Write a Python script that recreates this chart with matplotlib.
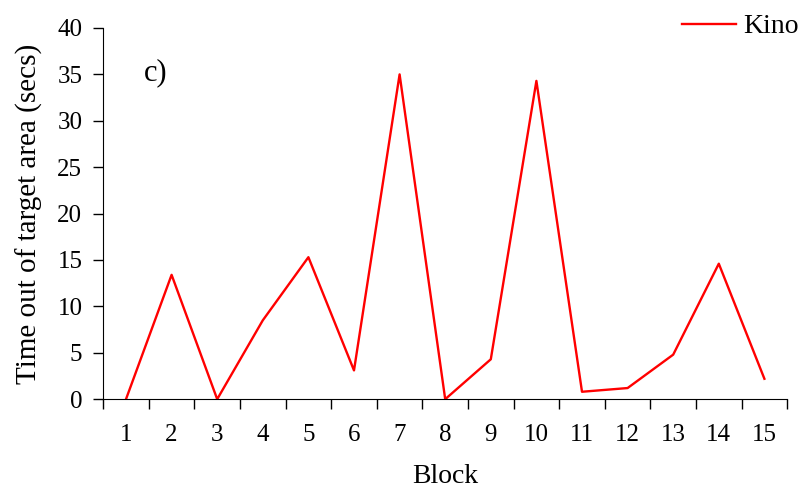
'''Time out of target area per block (Kino)'''
import matplotlib.pyplot as plt
import numpy as np

plt.rcParams['font.family'] = ['Liberation Serif', 'DejaVu Serif']

blocks = [1, 2, 3, 4, 5, 6, 7, 8, 9, 10, 11, 12, 13, 14, 15]
kino = [0, 13.4, 0, 8.5, 15.3, 3.1, 35.0, 0, 4.3, 34.3, 0.8, 1.2, 4.8, 14.6, 2.2]

fig = plt.figure(figsize=(8, 4.91), dpi=100)
ax = fig.add_axes([0.129, 0.187, 0.855, 0.756])

x = np.arange(1, len(blocks) + 1)
ax.plot(x, kino, color='#ff0000', linewidth=1.7, label='Kino') #The data line

ax.set_xlim(0.5, len(blocks) + 0.5)
ax.set_ylim(0, 40)
ax.set_yticks(np.arange(0, 41, 5))
ax.set_xticks(np.arange(0.5, len(blocks) + 1, 1)) #Ticks between categories
ax.set_xticklabels([])
ax.set_xticks(x, minor=True)
ax.set_xticklabels([str(b) for b in blocks], minor=True)
ax.tick_params(axis='x', which='major', direction='out', length=7, width=1)
ax.tick_params(axis='x', which='minor', length=0, pad=18, labelsize=18)
ax.tick_params(axis='y', direction='out', length=7, width=1, labelsize=18, pad=8)

for side in ['top', 'right']:
    ax.spines[side].set_visible(False)

ax.set_xlabel('Block', fontsize=20, labelpad=13)
ax.set_ylabel('Time out of target area (secs)', fontsize=21, labelpad=10)
ax.text(0.06, 0.86, 'c)', transform=ax.transAxes, fontsize=22)

fig.legend(loc='upper right', bbox_to_anchor=(1.016, 1.0), frameon=False, fontsize=20,
           handlelength=1.95, handletextpad=0.25, borderaxespad=0.1)

fig.savefig('out.png', dpi=100)
